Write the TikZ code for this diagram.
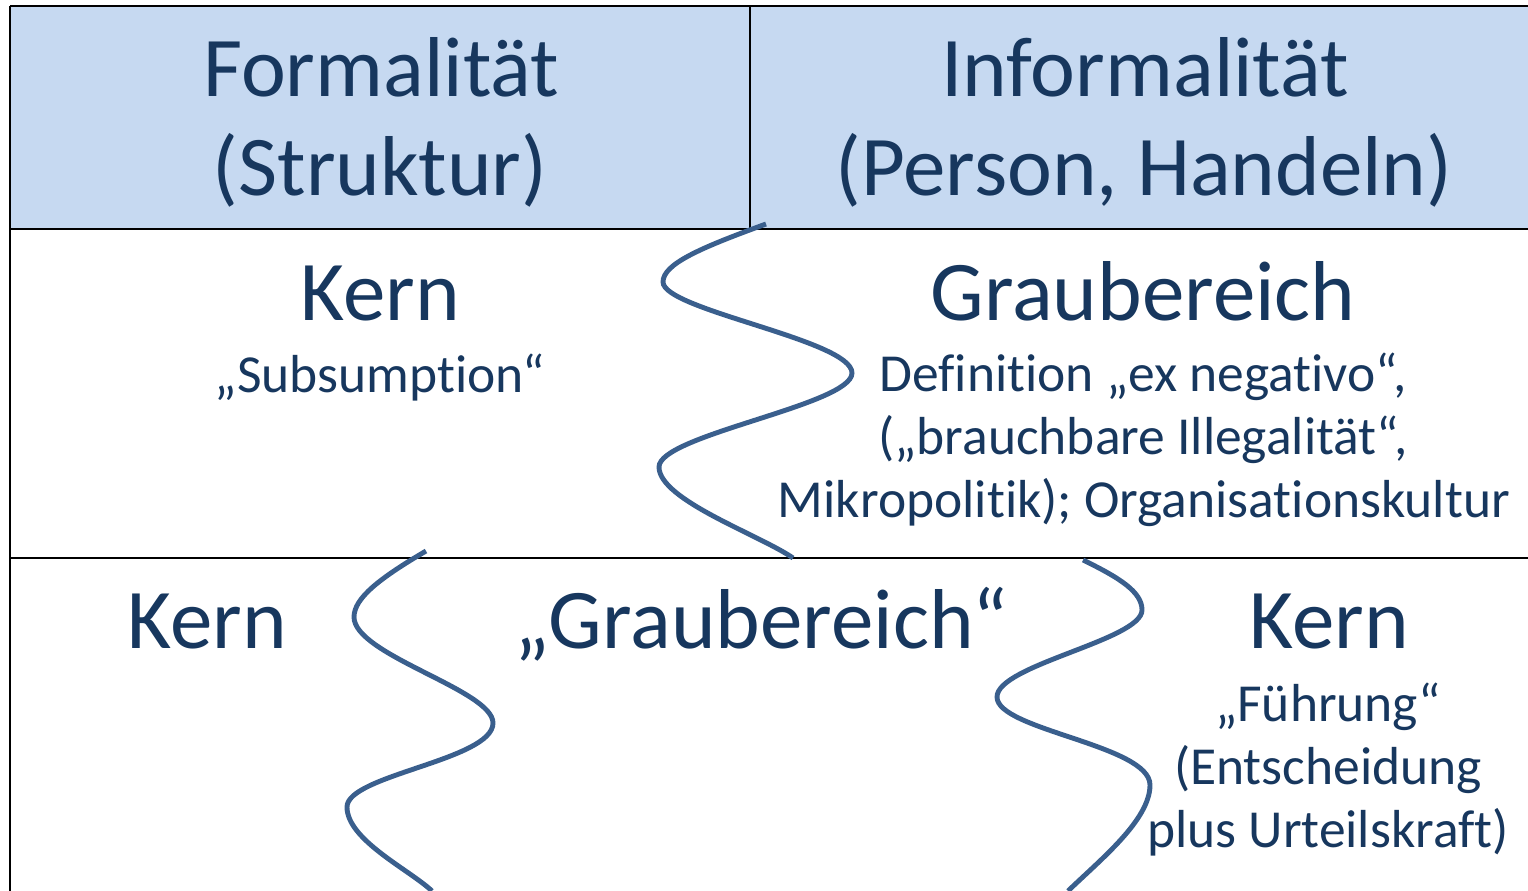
\documentclass[tikz,border=0pt]{standalone}
\usepackage{fontspec}
\setmainfont{Carlito}[Ligatures={NoCommon}]
\definecolor{txtblue}{HTML}{17375E}
\definecolor{wave}{HTML}{3A5F8D}
\definecolor{headfill}{HTML}{C6D9F1}
\begin{document}
\begin{tikzpicture}[x=1pt,y=-1pt,
  big/.style={text=txtblue,anchor=base,inner sep=0pt,font=\fontsize{85}{99}\selectfont},
  small/.style={text=txtblue,anchor=base,inner sep=0pt,font=\fontsize{53.5}{63}\selectfont},
  rule/.style={draw=black,line width=2.6pt},
  wavy/.style={draw=wave,line width=4.9pt,line cap=butt}]
\useasboundingbox (0,0) rectangle (1528,891);
% header fill
\fill[headfill] (10,6) rectangle (1528,229);
% grid lines
\coordinate (tl) at (10,6);
\coordinate (tr) at (1528,6);
\coordinate (bl) at (10,891);
\coordinate (hl) at (10,229);
\coordinate (hr) at (1528,229);
\coordinate (rl) at (10,558);
\coordinate (rr) at (1528,558);
\coordinate (ct) at (750,6);
\coordinate (cb) at (750,229);
\draw[rule] (tl) -- (tr);
\draw[rule] (tl) -- (bl);
\draw[rule] (hl) -- (hr);
\draw[rule] (rl) -- (rr);
\draw[rule] (ct) -- (cb);
% header texts
\node[big] (h1a) at (381,96) {Formalität};
\node[big] (h1b) at (380,195) {(Struktur)};
\node[big] (h2a) at (1145,96) {Informalität};
\node[big] (h2b) at (1144,195) {(Person, Handeln)};
% row 2
\node[big] (k1) at (380,320) {Kern};
\node[small] (sub) at (380,392) {„Subsumption“};
\node[big] (g1) at (1143,320) {Graubereich};
\node[small] (d1) at (1143,391) {Definition „ex negativo“,};
\node[small] (d2) at (1143,454) {(„brauchbare Illegalität“,};
\node[small] (d3) at (1144,517) {Mikropolitik); Organisationskultur};
% row 3
\node[big] (k2) at (207,648) {Kern};
\node[big] (g2) at (761,648) {„Graubereich“};
\node[big] (k3) at (1329,648) {Kern};
\node[small] (f1) at (1328,721) {„Führung“};
\node[small] (f2) at (1328,784) {(Entscheidung};
\node[small] (f3) at (1328,847) {plus Urteilskraft)};
% waves
\draw[wavy] (766,224) .. controls (700,248) and (663,264) .. (663,282)
  .. controls (663,310) and (852,340) .. (852,373)
  .. controls (852,405) and (659,435) .. (659,467)
  .. controls (659,500) and (760,535) .. (793,558);
\draw[wavy] (426,551) .. controls (380,578) and (354,598) .. (354,617)
  .. controls (354,655) and (493,690) .. (493,723)
  .. controls (493,760) and (347,775) .. (347,807)
  .. controls (347,840) and (410,870) .. (432,891);
\draw[wavy] (1083,560) .. controls (1120,578) and (1142,592) .. (1142,610)
  .. controls (1142,640) and (997,665) .. (997,697)
  .. controls (997,730) and (1150,745) .. (1150,785)
  .. controls (1150,820) and (1100,860) .. (1068,891);
\end{tikzpicture}
\end{document}
